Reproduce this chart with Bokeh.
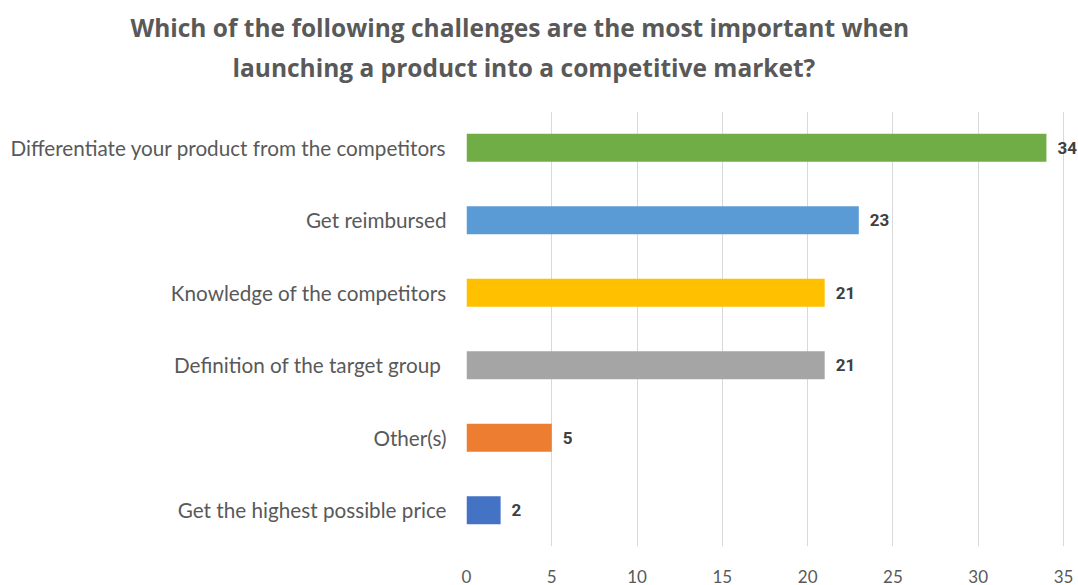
from bokeh.plotting import figure
from bokeh.models import ColumnDataSource, FactorRange, Range1d, LabelSet, Title, FixedTicker
from bokeh.core.properties import value
from bokeh.embed import file_html
from bokeh.resources import INLINE

categories = [
    "Differentiate your product from the competitors",
    "Get reimbursed",
    "Knowledge of the competitors",
    "Definition of the target group ",
    "Other(s)",
    "Get the highest possible price",
]
values = [34, 23, 21, 21, 5, 2]
colors = ["#70AD47", "#5B9BD5", "#FFC000", "#A5A5A5", "#ED7D31", "#4472C4"]
x_ticks = [0, 5, 10, 15, 20, 25, 30, 35]
title_lines = [
    "Which of the following challenges are the most important when",
    "launching a product into a competitive market?",
]

src = ColumnDataSource(dict(
    cat=categories, val=values, col=colors, lab=[str(v) for v in values]
))

p = figure(
    width=1078, height=585,
    y_range=FactorRange(factors=list(reversed(categories))),
    x_range=Range1d(0, 35.88),
    output_backend="svg", toolbar_location=None,
    min_border_left=466, min_border_right=0, min_border_top=111, min_border_bottom=38,
)
p.outline_line_color = None
p.background_fill_color = "white"
p.border_fill_color = "white"

p.hbar(y="cat", right="val", left=0, height=0.385, color="col", source=src, line_color=None)

labels = LabelSet(x="val", y="cat", text="lab", source=src, x_offset=11,
                  text_baseline="middle", text_font=value("Roboto"),
                  text_font_style="bold", text_font_size="17px", text_color="#404040")
p.add_layout(labels)

# axes
p.xaxis.ticker = FixedTicker(ticks=x_ticks)
p.xaxis.axis_line_color = None
p.xaxis.major_tick_line_color = None
p.xaxis.minor_tick_line_color = None
p.xaxis.major_label_text_font = "Lato"
p.xaxis.major_label_text_font_size = "17px"
p.xaxis.major_label_text_color = "#595959"
p.xaxis.major_label_standoff = 17

p.yaxis.axis_line_color = None
p.yaxis.major_tick_line_color = None
p.yaxis.major_label_text_font = "Lato"
p.yaxis.major_label_text_font_size = "20.7px"
p.yaxis.major_label_text_color = "#595959"
p.yaxis.major_label_standoff = 14

p.xgrid.grid_line_color = "#D9D9D9"
p.xgrid.grid_line_width = 1
p.ygrid.grid_line_color = None

# spacer between plot and title block
p.add_layout(Title(text=" ", text_font_size="2px", standoff=24), "above")
# titles: second line first (closest to plot)
p.add_layout(Title(text=title_lines[1], align="left", offset=-234, standoff=0,
                   text_font="Open Sans", text_font_style="bold", text_font_size="24.5px",
                   text_color="#595959"), "above")
p.add_layout(Title(text=title_lines[0], align="left", offset=-336, standoff=9,
                   text_font="Open Sans", text_font_style="bold", text_font_size="24.5px",
                   text_color="#595959"), "above")

open("out.html", "w").write(file_html(p, INLINE))
